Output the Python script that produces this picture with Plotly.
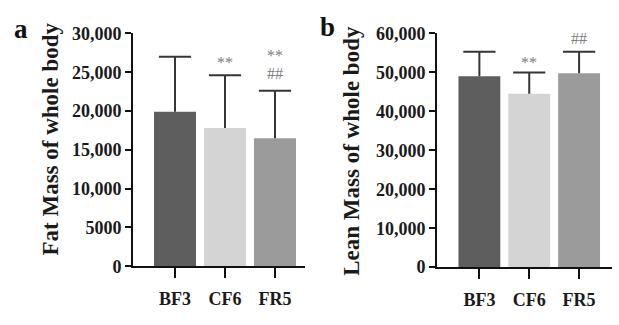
import plotly.graph_objects as go

categories = ["BF3", "CF6", "FR5"]
fat_mean = [19900, 17800, 16500]
fat_err = [7100, 6800, 6100]
lean_mean = [49000, 44500, 49800]
lean_err = [6300, 5500, 5500]
bar_colors = ["#5e5e5e", "#d4d4d4", "#9b9b9b"]
fat_ticks = [0, 5000, 10000, 15000, 20000, 25000, 30000]
fat_ticktext = ["0", "5000", "10,000", "15,000", "20,000", "25,000", "30,000"]
lean_ticks = [0, 10000, 20000, 30000, 40000, 50000, 60000]
lean_ticktext = ["0", "10,000", "20,000", "30,000", "40,000", "50,000", "60,000"]
fat_marks = [("CF6", 26300, "**"), ("FR5", 27150, "**"), ("FR5", 24800, "##")]
lean_marks = [("CF6", 52600, "**"), ("FR5", 58600, "##")]

FONT = "Liberation Serif"
W, H = 619, 325
ERR_COLOR = "#353535"

fig = go.Figure()
for xa, ya, means, errs in [("x", "y", fat_mean, fat_err), ("x2", "y2", lean_mean, lean_err)]:
    fig.add_trace(go.Bar(
        x=categories, y=means, xaxis=xa, yaxis=ya,
        marker=dict(color=bar_colors, line=dict(width=0)),
        width=0.84,
        error_y=dict(type="data", symmetric=False, array=errs, arrayminus=[0, 0, 0],
                     color=ERR_COLOR, thickness=2, width=0),
        showlegend=False, hoverinfo="skip",
    ))
    # caps of the upper error bars
    fig.add_trace(go.Scatter(
        x=categories, y=[m + e for m, e in zip(means, errs)], xaxis=xa, yaxis=ya,
        mode="markers",
        marker=dict(symbol="line-ew", size=23, line=dict(width=2, color=ERR_COLOR)),
        showlegend=False, hoverinfo="skip",
    ))

tickfont = dict(family=FONT, size=18, color="#1a1a1a", weight="bold")
axis_common = dict(showline=True, linecolor="#111111", linewidth=2, ticks="outside",
                   tickcolor="#111111", tickwidth=2, showgrid=False, zeroline=False,
                   tickfont=tickfont)

fig.update_layout(
    width=W, height=H, margin=dict(l=0, r=0, t=0, b=0),
    paper_bgcolor="white", plot_bgcolor="white",
    font=dict(family=FONT),
    xaxis=dict(domain=[133 / W, 305 / W], anchor="y", type="category",
               range=[-0.84, 2.6], ticklen=10, ticklabelstandoff=5, **axis_common),
    yaxis=dict(domain=[1 - 273 / H, 1 - 25 / H], anchor="x", range=[0, 30000],
               tickvals=fat_ticks, ticktext=fat_ticktext, ticklen=6, **axis_common),
    xaxis2=dict(domain=[437 / W, 612 / W], anchor="y2", type="category",
                range=[-0.85, 2.66], ticklen=10, ticklabelstandoff=5, **axis_common),
    yaxis2=dict(domain=[1 - 274 / H, 1 - 25 / H], anchor="x2", range=[0, 60000],
                tickvals=lean_ticks, ticktext=lean_ticktext, ticklen=6, **axis_common),
)

anns = []
markfont = dict(family=FONT, size=16, color="#7d7d7d")
for cat, yv, txt in fat_marks:
    anns.append(dict(x=cat, y=yv, xref="x", yref="y", text=txt, showarrow=False,
                     font=markfont, xanchor="center", yanchor="middle"))
for cat, yv, txt in lean_marks:
    anns.append(dict(x=cat, y=yv, xref="x2", yref="y2", text=txt, showarrow=False,
                     font=markfont, xanchor="center", yanchor="middle"))
titlefont = dict(family=FONT, size=23, color="#1a1a1a", weight="bold")
anns.append(dict(x=51 / W, y=1 - 138 / H, xref="paper", yref="paper",
                 text="Fat Mass of whole body", textangle=-90, showarrow=False,
                 xanchor="center", yanchor="middle", font=titlefont))
anns.append(dict(x=352 / W, y=1 - 150 / H, xref="paper", yref="paper",
                 text="Lean Mass of whole body", textangle=-90, showarrow=False,
                 xanchor="center", yanchor="middle", font=titlefont))
labfont = dict(family=FONT, size=27, color="#111111", weight="bold")
anns.append(dict(x=21 / W, y=1 - 20 / H, xref="paper", yref="paper", text="a",
                 showarrow=False, xanchor="center", yanchor="middle", font=labfont))
anns.append(dict(x=327 / W, y=1 - 18 / H, xref="paper", yref="paper", text="b",
                 showarrow=False, xanchor="center", yanchor="middle", font=labfont))
fig.update_layout(annotations=anns)

fig.write_html("out.html")
